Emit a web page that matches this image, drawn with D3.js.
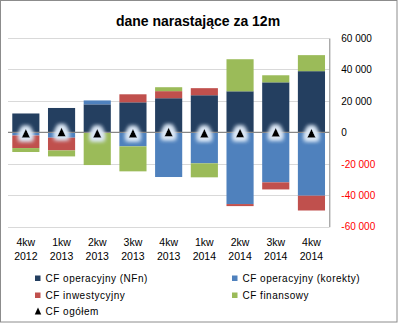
<!DOCTYPE html>
<html>
<head>
<meta charset="utf-8">
<script src="https://cdn.jsdelivr.net/npm/d3@7"></script>
<style>
  body { margin: 0; background: #fff; }
  svg text { font-family: "Liberation Sans", Arial, sans-serif; }
</style>
</head>
<body>
<svg class="svg_cf" width="398" height="324"></svg>
<script>
// cash flow, 12-month rolling sums per quarter
var quarters = ["4kw 2012", "1kw 2013", "2kw 2013", "3kw 2013", "4kw 2013", "1kw 2014", "2kw 2014", "3kw 2014", "4kw 2014"];
var cfNFn      = [12000, 15500, 17800, 19100, 21700, 23600, 26100, 31800, 38900];
var cfKorekty  = [-2000, -3400,  2500, -8900, -28400, -19700, -45600, -31800, -40300];
var cfInwest   = [-8000, -8100,     0,  5100,   4500,   4500,  -1300,  -4500,  -9400];
var cfFinans   = [-2500, -3800, -20800, -15900,  2500,  -8900,  20400,   4500,  10200];
var cfOgolem   = [-500,    200,  -500,  -600,    300,   -500,   -400,      0,   -600];
var yTicks = [60000, 40000, 20000, 0, -20000, -40000, -60000];

var seriesKeys = ["nfn", "korekty", "inwest", "finans"];
var seriesNames = ["CF operacyjny (NFn)", "CF operacyjny (korekty)", "CF inwestycyjny", "CF finansowy"];
var colors = ["#243f60", "#4f81bd", "#c0504d", "#9bbb59"];

var svg = d3.select(".svg_cf");
var plotLeft = 8, plotRight = 329.3, plotTop = 38, plotBottom = 226.7;

var rows = quarters.map(function(q, i) {
  return { q: q, nfn: cfNFn[i], korekty: cfKorekty[i], inwest: cfInwest[i], finans: cfFinans[i], total: cfOgolem[i] };
});

var x = d3.scaleBand().domain(quarters).range([plotLeft, plotRight]).paddingInner(0.24).paddingOuter(0.12);
var y = d3.scaleLinear().domain([-60000, 60000]).range([plotBottom, plotTop]);

// outer frame
svg.append("rect")
  .attr("x", 0.5).attr("y", 0.5).attr("width", 396.5).attr("height", 321.5)
  .attr("fill", "#fff").attr("stroke", "#8c8c8c");

svg.append("text")
  .attr("x", 198).attr("y", 25.5)
  .attr("text-anchor", "middle")
  .style("font-size", "14px").style("font-weight", "bold")
  .text("dane narastające za 12m");

// gridlines
svg.append("g").selectAll("line")
  .data(yTicks.filter(function(t) { return t != 0; }))
  .enter().append("line")
  .attr("x1", plotLeft).attr("x2", plotRight)
  .attr("y1", function(d) { return Math.round(y(d)) + 0.5; })
  .attr("y2", function(d) { return Math.round(y(d)) + 0.5; })
  .attr("stroke", "#d9d9d9");

// stacked bars, positive up / negative down
var stack = d3.stack().keys(seriesKeys).offset(d3.stackOffsetDiverging);
var layers = stack(rows);

svg.append("g").selectAll("g")
  .data(layers)
  .enter().append("g")
  .attr("fill", function(d, i) { return colors[i]; })
  .selectAll("rect")
  .data(function(d) { return d; })
  .enter().append("rect")
  .attr("x", function(d) { return x(d.data.q); })
  .attr("width", x.bandwidth())
  .attr("y", function(d) { return y(d[1]); })
  .attr("height", function(d) { return y(d[0]) - y(d[1]); });

// zero line
svg.append("line")
  .attr("x1", plotLeft).attr("x2", plotRight)
  .attr("y1", y(0)).attr("y2", y(0))
  .attr("stroke", "#868686").attr("stroke-width", 1.3);

// value axis on the right
var yAxis = d3.axisRight(y).tickValues(yTicks).tickSize(0).tickPadding(12)
  .tickFormat(function(d) { return d3.format(",")(d).replace(/,/g, " ").replace("−", "-"); });

var ag = svg.append("g")
  .attr("transform", "translate(" + plotRight + ",0)")
  .call(yAxis);
ag.select(".domain").attr("stroke", "#868686");
ag.selectAll("text")
  .style("font-size", "10px")
  .attr("fill", function(d) { return d < 0 ? "#ff0000" : "#000"; });

// category labels, two lines
var xl = svg.append("g").selectAll("text")
  .data(quarters)
  .enter().append("text")
  .attr("text-anchor", "middle")
  .style("font-size", "10.5px")
  .attr("x", function(d) { return x(d) + x.bandwidth() / 2; })
  .attr("y", 246);
xl.append("tspan").text(function(d) { return d.split(" ")[0]; });
xl.append("tspan")
  .attr("x", function(d) { return x(d) + x.bandwidth() / 2; })
  .attr("dy", 14)
  .text(function(d) { return d.split(" ")[1]; });

// glow behind the total markers
var defs = svg.append("defs");
var glow = defs.append("filter").attr("id", "glow")
  .attr("x", "-150%").attr("y", "-150%").attr("width", "400%").attr("height", "400%");
glow.append("feMorphology").attr("in", "SourceAlpha").attr("operator", "dilate").attr("radius", 2.5).attr("result", "fat");
glow.append("feGaussianBlur").attr("in", "fat").attr("stdDeviation", 2.2).attr("result", "blur");
glow.append("feFlood").attr("flood-color", "#dce8f6").attr("flood-opacity", 1);
glow.append("feComposite").attr("in2", "blur").attr("operator", "in").attr("result", "halo");
var merge = glow.append("feMerge");
merge.append("feMergeNode").attr("in", "halo");
merge.append("feMergeNode").attr("in", "halo");
merge.append("feMergeNode").attr("in", "SourceGraphic");

// marker triangle, 8 wide and 9 tall, centred
function triangle(w, h) {
  return "M0," + (-h / 2) + "L" + (w / 2) + "," + (h / 2) + "L" + (-w / 2) + "," + (h / 2) + "Z";
}

svg.append("g").selectAll("path")
  .data(rows)
  .enter().append("path")
  .attr("d", triangle(8.5, 9))
  .attr("filter", "url(#glow)")
  .attr("fill", "#000")
  .attr("transform", function(d) { return "translate(" + (x(d.q) + x.bandwidth() / 2) + "," + y(d.total) + ")"; });

// legend
var legendPos = [[35, 278], [232, 278], [35, 295], [232, 295]];
var lg = svg.append("g").selectAll("g")
  .data(seriesNames)
  .enter().append("g")
  .attr("transform", function(d, i) { return "translate(" + legendPos[i][0] + "," + legendPos[i][1] + ")"; });
lg.append("rect")
  .attr("x", 0).attr("y", -2.5).attr("width", 5.5).attr("height", 5.5)
  .attr("fill", function(d, i) { return colors[i]; });
lg.append("text")
  .attr("x", 10.5).attr("y", 4)
  .style("font-size", "10px").style("letter-spacing", "0.5px")
  .text(function(d) { return d; });

var lt = svg.append("g").attr("transform", "translate(38,311)");
lt.append("path").attr("d", triangle(6.5, 7)).attr("fill", "#000");
lt.append("text")
  .attr("x", 7.5).attr("y", 4)
  .style("font-size", "10px").style("letter-spacing", "0.5px")
  .text("CF ogółem");
</script>
</body>
</html>
